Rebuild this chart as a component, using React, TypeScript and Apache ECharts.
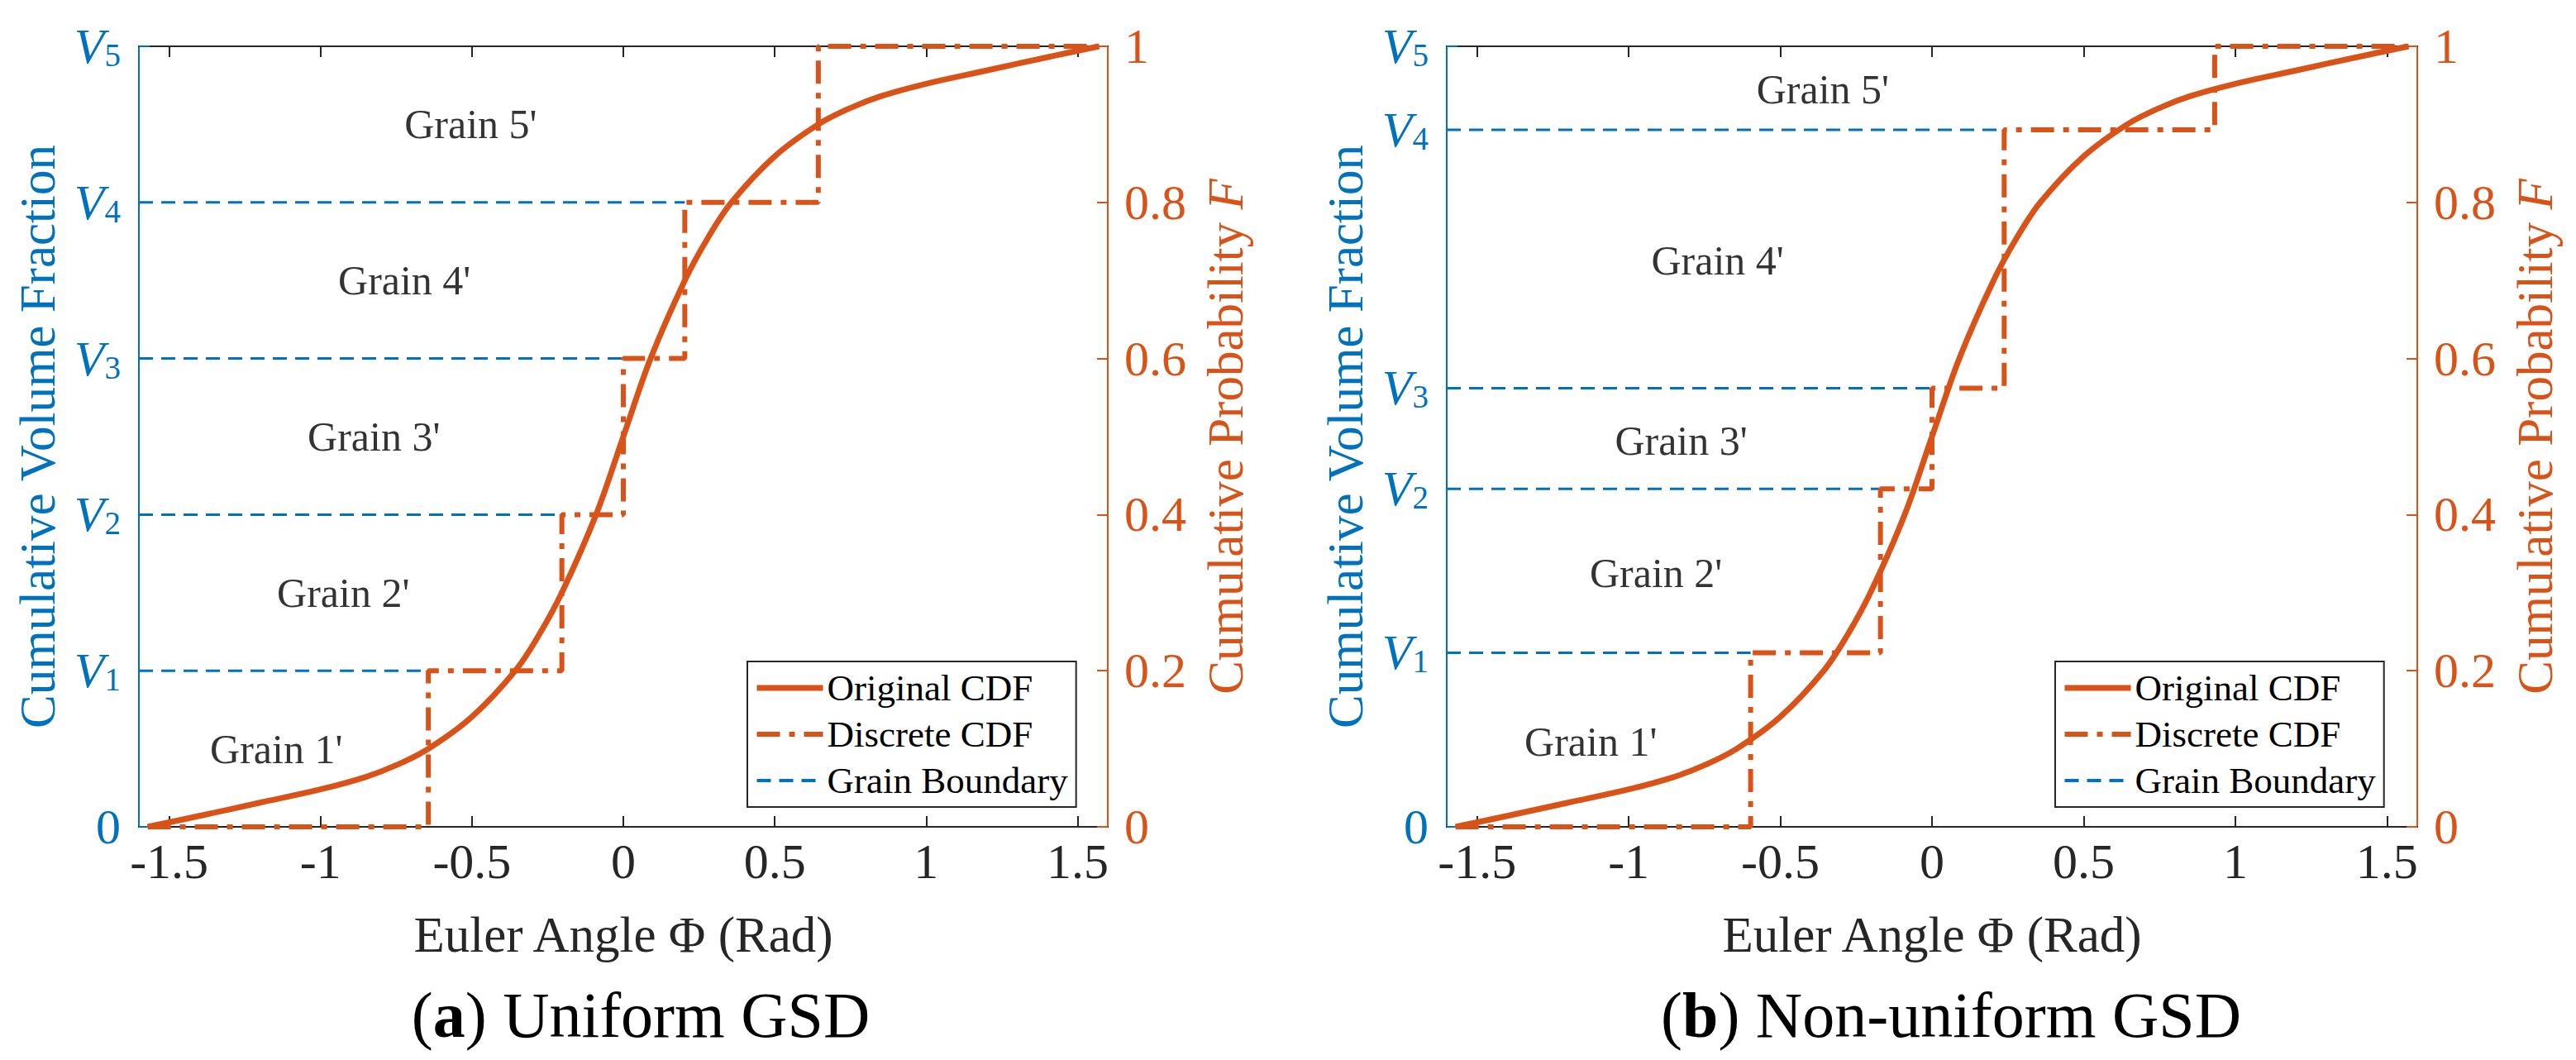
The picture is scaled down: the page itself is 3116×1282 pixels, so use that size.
import React, { useEffect, useRef } from "react";
import * as echarts from "echarts";

const BLUE = "#0072BD";
const ORANGE = "#D95319";
const INK = "#262626";
const SERIF = "'Liberation Serif', 'Times New Roman', serif";

// x axis
const xLimits = [-1.6, 1.6];
const xTicks = [-1.5, -1, -0.5, 0, 0.5, 1, 1.5];

// Original CDF (same curve in both panels)
const cdfX = [-1.571, -1.4, -1.2, -1.0, -0.85, -0.75, -0.644, -0.5, -0.357, -0.28, -0.203, -0.09, 0, 0.09, 0.203, 0.28, 0.357, 0.5, 0.644, 0.75, 0.85, 1.0, 1.2, 1.4, 1.571];
const cdfF = [0, 0.014, 0.031, 0.048, 0.064, 0.079, 0.1, 0.141, 0.2, 0.245, 0.3, 0.4, 0.5, 0.6, 0.7, 0.755, 0.8, 0.859, 0.9, 0.921, 0.936, 0.952, 0.969, 0.986, 1];

// Panel (a): uniform GSD
const volA = [0, 0.2, 0.4, 0.6, 0.8, 1];
const stepXA = [-0.644, -0.203, 0, 0.203, 0.644];
const grainXA = [-1.146, -0.925, -0.824, -0.723, -0.504];
const grainYA = [0.1, 0.3, 0.5, 0.7, 0.9];

// Panel (b): non-uniform GSD
const volB = [0, 0.223, 0.433, 0.562, 0.893, 1];
const stepXB = [-0.598, -0.17, 0, 0.238, 0.932];
const grainXB = [-1.125, -0.91, -0.827, -0.707, -0.36];
const grainYB = [0.109, 0.325, 0.495, 0.726, 0.945];

const grainNames = ["Grain 1'", "Grain 2'", "Grain 3'", "Grain 4'", "Grain 5'"];
const legendNames = ["Original CDF", "Discrete CDF", "Grain Boundary"];
const captions = [["a", " Uniform GSD"], ["b", " Non-uniform GSD"]];

const DASH_DOT = [28, 11, 7, 11];
const DASH = [17, 10];
const W_CURVE = 7;
const W_STEP = 6;
const W_BOUND = 3;

function buildPanel(p: number, vol: number[], stepX: number[], gx: number[], gy: number[]) {
  const xStart = cdfX[0];
  const xEnd = cdfX[cdfX.length - 1];
  const curve = cdfX.map((x, i) => [x, cdfF[i]]);
  const discrete: any[] = [[xStart, vol[0]]];
  stepX.forEach((sx, i) => {
    discrete.push([sx, vol[i]]);
    discrete.push([sx, vol[i + 1]]);
  });
  discrete.push([xEnd, vol[vol.length - 1]]);
  const bounds: any[] = [];
  for (let i = 1; i < vol.length - 1; i++) {
    bounds.push([xLimits[0], vol[i]]);
    bounds.push([stepX[i - 1], vol[i]]);
    bounds.push(["-", "-"]);
  }
  const grains = gx.map((x, i) => ({ value: [x, gy[i]], name: grainNames[i] }));
  return [
    {
      name: legendNames[0],
      type: "line",
      xAxisIndex: 2 * p,
      yAxisIndex: 2 * p + 1,
      data: curve,
      symbol: "none",
      smooth: 0.35,
      lineStyle: { color: ORANGE, width: W_CURVE },
      itemStyle: { color: ORANGE, opacity: 0 },
      z: 3,
    },
    {
      name: legendNames[1],
      type: "line",
      xAxisIndex: 2 * p,
      yAxisIndex: 2 * p + 1,
      data: discrete,
      symbol: "none",
      lineStyle: { color: ORANGE, width: W_STEP, type: DASH_DOT },
      itemStyle: { color: ORANGE, opacity: 0 },
      z: 4,
    },
    {
      name: legendNames[2],
      type: "line",
      xAxisIndex: 2 * p,
      yAxisIndex: 2 * p,
      data: bounds,
      symbol: "none",
      connectNulls: false,
      lineStyle: { color: BLUE, width: W_BOUND, type: DASH },
      itemStyle: { color: BLUE, opacity: 0 },
      z: 2,
    },
    {
      name: "grains" + p,
      type: "scatter",
      xAxisIndex: 2 * p,
      yAxisIndex: 2 * p,
      data: grains,
      symbolSize: 0,
      silent: true,
      label: {
        show: true,
        position: "inside",
        formatter: "{b}",
        fontFamily: SERIF,
        fontSize: 50,
        color: "#000",
      },
      z: 5,
    },
  ];
}

function xAxes(p: number) {
  return [
    {
      type: "value",
      gridIndex: p,
      position: "bottom",
      min: xLimits[0],
      max: xLimits[1],
      axisLine: { onZero: false, lineStyle: { color: INK, width: 2 } },
      axisTick: { inside: true, length: 13, customValues: xTicks, lineStyle: { color: INK, width: 2 } },
      axisLabel: { customValues: xTicks, color: INK, fontFamily: SERIF, fontSize: 60, margin: 12 },
      splitLine: { show: false },
      name: "Euler Angle Φ (Rad)",
      nameLocation: "middle",
      nameGap: 100,
      nameTextStyle: { color: INK, fontFamily: SERIF, fontSize: 61 },
    },
    {
      type: "value",
      gridIndex: p,
      position: "top",
      min: xLimits[0],
      max: xLimits[1],
      axisLine: { onZero: false, lineStyle: { color: INK, width: 2 } },
      axisTick: { inside: true, length: 13, customValues: xTicks, lineStyle: { color: INK, width: 2 } },
      axisLabel: { show: false },
      splitLine: { show: false },
    },
  ];
}

function yAxes(p: number, vol: number[]) {
  return [
    {
      type: "value",
      gridIndex: p,
      position: "left",
      min: 0,
      max: 1,
      axisLine: { show: true, onZero: false, lineStyle: { color: BLUE, width: 2 } },
      axisTick: { show: true, inside: true, length: 13, customValues: vol, lineStyle: { color: BLUE, width: 2 } },
      axisLabel: {
        customValues: vol,
        margin: 22,
        formatter: (v: number) => {
          const idx = vol.findIndex((t) => Math.abs(t - v) < 1e-6);
          if (idx <= 0) return "{z|0}";
          return `{v|V}{s|${idx}}`;
        },
        rich: {
          z: { color: BLUE, fontFamily: SERIF, fontSize: 60, lineHeight: 60 },
          v: { color: BLUE, fontFamily: SERIF, fontSize: 60, fontStyle: "italic", lineHeight: 60 },
          s: { color: BLUE, fontFamily: SERIF, fontSize: 39, lineHeight: 30, verticalAlign: "bottom" },
        },
      },
      splitLine: { show: false },
      name: "Cumulative Volume Fraction",
      nameLocation: "middle",
      nameGap: 92,
      nameRotate: 90,
      nameTextStyle: { color: BLUE, fontFamily: SERIF, fontSize: 61 },
    },
    {
      type: "value",
      gridIndex: p,
      position: "right",
      min: 0,
      max: 1,
      interval: 0.2,
      axisLine: { show: true, onZero: false, lineStyle: { color: ORANGE, width: 2 } },
      axisTick: { show: true, inside: true, length: 13, lineStyle: { color: ORANGE, width: 2 } },
      axisLabel: { color: ORANGE, fontFamily: SERIF, fontSize: 60, margin: 20 },
      splitLine: { show: false },
      name: "Cumulative Probability {i|F}",
      nameLocation: "middle",
      nameGap: 112,
      nameRotate: 90,
      nameTextStyle: {
        color: ORANGE,
        fontFamily: SERIF,
        fontSize: 61,
        rich: { i: { color: ORANGE, fontFamily: SERIF, fontSize: 61, fontStyle: "italic" } },
      },
    },
  ];
}

function legendAt(left: number) {
  return {
    left,
    top: 800,
    orient: "vertical",
    data: [
      { name: legendNames[0], lineStyle: { width: W_CURVE, color: ORANGE, type: "solid" } },
      { name: legendNames[1], lineStyle: { width: W_STEP, color: ORANGE, type: DASH_DOT } },
      { name: legendNames[2], lineStyle: { width: W_BOUND + 1, color: BLUE, type: DASH } },
    ],
    itemWidth: 80,
    itemHeight: 14,
    itemGap: 6,
    padding: [7, 10, 7, 8],
    backgroundColor: "#fff",
    borderColor: INK,
    borderWidth: 2,
    borderRadius: 0,
    selectedMode: false,
    itemStyle: { opacity: 0 },
    textStyle: { color: "#000", fontFamily: SERIF, fontSize: 45, lineHeight: 50 },
  };
}

function captionAt(left: number, i: number) {
  return {
    left,
    top: 1186,
    textAlign: "center",
    padding: 0,
    text: `{p|(}{b|${captions[i][0]}}{p|)${captions[i][1]}}`,
    textStyle: {
      fontWeight: "normal",
      fontFamily: SERIF,
      fontSize: 78,
      lineHeight: 82,
      color: "#000",
      rich: {
        p: { color: "#000", fontFamily: SERIF, fontSize: 78, lineHeight: 82, fontWeight: "normal" },
        b: { color: "#000", fontFamily: SERIF, fontSize: 78, lineHeight: 82, fontWeight: "bold" },
      },
    },
  };
}

export default function App() {
  const ref = useRef<HTMLDivElement>(null);
  useEffect(() => {
    if (!ref.current) return;
    const chart = echarts.init(ref.current, null, { renderer: "svg" });
    chart.setOption({
      animation: false,
      backgroundColor: "#fff",
      grid: [
        { left: 168, top: 56, width: 1172, height: 944, containLabel: false },
        { left: 1750, top: 56, width: 1174, height: 944, containLabel: false },
      ],
      xAxis: [...xAxes(0), ...xAxes(1)],
      yAxis: [...yAxes(0, volA), ...yAxes(1, volB)],
      legend: [legendAt(904), legendAt(2486)],
      title: [captionAt(775, 0), captionAt(2360, 1)],
      series: [
        ...buildPanel(0, volA, stepXA, grainXA, grainYA),
        ...buildPanel(1, volB, stepXB, grainXB, grainYB),
      ],
    });
    return () => chart.dispose();
  }, []);
  return (
    <div
      ref={ref}
      style={{ position: "absolute", left: 0, top: 0, width: 3116, height: 1282, background: "#fff" }}
    />
  );
}
